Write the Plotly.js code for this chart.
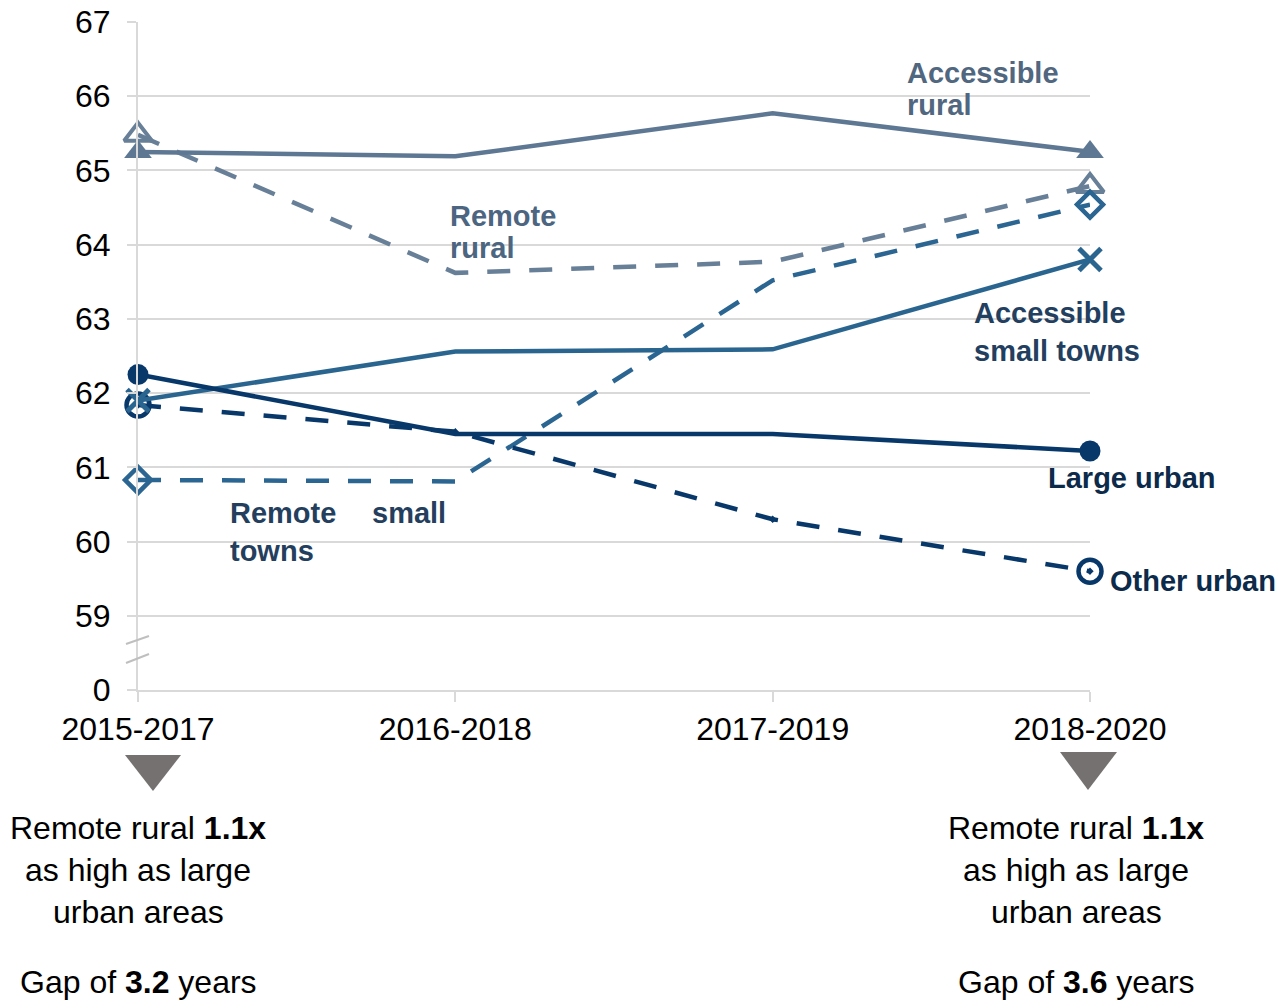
<!DOCTYPE html>
<html>
<head>
<meta charset="utf-8">
<script src="https://cdn.plot.ly/plotly-3.0.1.min.js"></script>
<style>
html,body{margin:0;padding:0;background:#fff;}
#chart{width:1288px;height:1001px;}
</style>
</head>
<body>
<div id="chart"></div>
<script>
// ---- data ----
const periods = ["2015-2017", "2016-2018", "2017-2019", "2018-2020"];
const accessibleRural = [65.25, 65.19, 65.77, 65.25];
const remoteRural = [65.48, 63.62, 63.77, 64.79];
const accessibleSmallTowns = [61.90, 62.56, 62.59, 63.80];
const remoteSmallTowns = [60.83, 60.81, 63.52, 64.54];
const largeUrban = [62.25, 61.45, 61.45, 61.22];
const otherUrban = [61.84, 61.48, 60.30, 59.60];
// y-axis: values 59..67 plus a broken-axis "0" placed one unit below 59
const yTickVals = [58, 59, 60, 61, 62, 63, 64, 65, 66, 67];
const yTickText = ["0", "59", "60", "61", "62", "63", "64", "65", "66", "67"];

// ---- layout helpers (pixel -> paper) ----
const L = 138, R = 1090, T = 22, B = 690;
const px = x => (x - L) / (R - L);
const py = y => (B - y) / (B - T);
const xIdx = periods.map((_, i) => i);

function series(yv, color, dash, symbol, size, lw) {
  return {
    x: xIdx, y: yv, type: "scatter", mode: "lines+markers",
    cliponaxis: false, showlegend: false, hoverinfo: "skip",
    line: {color: color, width: 4.5, dash: dash},
    marker: {
      symbol: symbol, size: [size, 0, 0, size], opacity: 1,
      color: color,
      line: {color: color, width: lw}
    }
  };
}

const data = [
  series(remoteRural, "#687f98", "23px,19px", "triangle-up-open", 24, 4),
  series(accessibleRural, "#5e7894", "solid", "triangle-up", 24, 0),
  series(remoteSmallTowns, "#2b6591", "23px,19px", "diamond-open", 20, 4.5),
  series(otherUrban, "#08386a", "23px,19px", "circle-open-dot", 23, 4.5),
  series(accessibleSmallTowns, "#2a6590", "solid", "x-thin-open", 22, 5),
  series(largeUrban, "#08386a", "solid", "circle", 21, 0)
];

const FONT = "Liberation Sans, Arial, sans-serif";
function lab(text, x, y, color, anchor) {
  return {
    text: "<b>" + text + "</b>", xref: "paper", yref: "paper",
    x: px(x), y: py(y), xanchor: anchor || "left", yanchor: "middle",
    showarrow: false, font: {family: FONT, size: 29, color: color}
  };
}
function note(text, x, y) {
  return {
    text: text, xref: "paper", yref: "paper",
    x: px(x), y: py(y), xanchor: "center", yanchor: "middle",
    showarrow: false, font: {family: FONT, size: 32, color: "#000000"}
  };
}

const annotations = [
  lab("Accessible", 905, 73, "#50677f"),
  lab("rural", 905, 105, "#50677f"),
  lab("Remote", 448, 216, "#4c6580"),
  lab("rural", 448, 248, "#4c6580"),
  lab("Accessible", 972, 313, "#233f5f"),
  lab("small towns", 972, 351, "#233f5f"),
  lab("Remote", 228, 513, "#243f5e"),
  lab("small", 370, 513, "#243f5e"),
  lab("towns", 228, 551, "#243f5e"),
  lab("Large urban", 1046, 478, "#0c2a4a"),
  lab("Other urban", 1108, 581, "#0c2a4a"),
  note("Remote rural <b>1.1x</b>", 138, 828),
  note("as high as large", 138, 870),
  note("urban areas", 138, 912),
  note("Gap of <b>3.2</b> years", 138, 982),
  note("Remote rural <b>1.1x</b>", 1076, 828),
  note("as high as large", 1076, 870),
  note("urban areas", 1076, 912),
  note("Gap of <b>3.6</b> years", 1076, 982)
];

function tri(x1, x2, yTop, xm, yBot) {
  return {
    type: "path", xref: "paper", yref: "paper",
    path: `M ${px(x1)} ${py(yTop)} L ${px(x2)} ${py(yTop)} L ${px(xm)} ${py(yBot)} Z`,
    fillcolor: "#767171", line: {width: 0}
  };
}
function brk(x1, y1, x2, y2) {
  return {
    type: "line", xref: "paper", yref: "paper",
    x0: px(x1), y0: py(y1), x1: px(x2), y1: py(y2),
    line: {color: "#bfbfbf", width: 2}
  };
}

const layout = {
  width: 1288, height: 1001,
  margin: {l: L, r: 1288 - R, t: T, b: 1001 - B, pad: 0},
  paper_bgcolor: "#ffffff", plot_bgcolor: "#ffffff",
  font: {family: FONT, color: "#000000"},
  showlegend: false,
  xaxis: {
    range: [0, 3], tickmode: "array", tickvals: xIdx, ticktext: periods,
    showgrid: false, zeroline: false,
    showline: true, linecolor: "#d9d9d9", linewidth: 2,
    ticks: "outside", ticklen: 10, tickcolor: "#d9d9d9", tickwidth: 2,
    tickfont: {family: FONT, size: 32, color: "#000000"},
    ticklabelstandoff: 0
  },
  yaxis: {
    range: [58, 67], tickmode: "array", tickvals: yTickVals, ticktext: yTickText,
    showgrid: true, gridcolor: "#d9d9d9", gridwidth: 2, zeroline: false,
    showline: true, linecolor: "#d9d9d9", linewidth: 2,
    ticks: "outside", ticklen: 9, tickcolor: "#d9d9d9", tickwidth: 2,
    tickfont: {family: FONT, size: 32, color: "#000000"},
    ticklabelstandoff: 10
  },
  annotations: annotations,
  shapes: [
    tri(125, 181, 755, 153, 791),
    tri(1060, 1117, 752, 1088, 790),
    brk(126, 644, 149, 636),
    brk(126, 663, 149, 654)
  ]
};

Plotly.newPlot("chart", data, layout, {displayModeBar: false, staticPlot: true});
</script>
</body>
</html>
